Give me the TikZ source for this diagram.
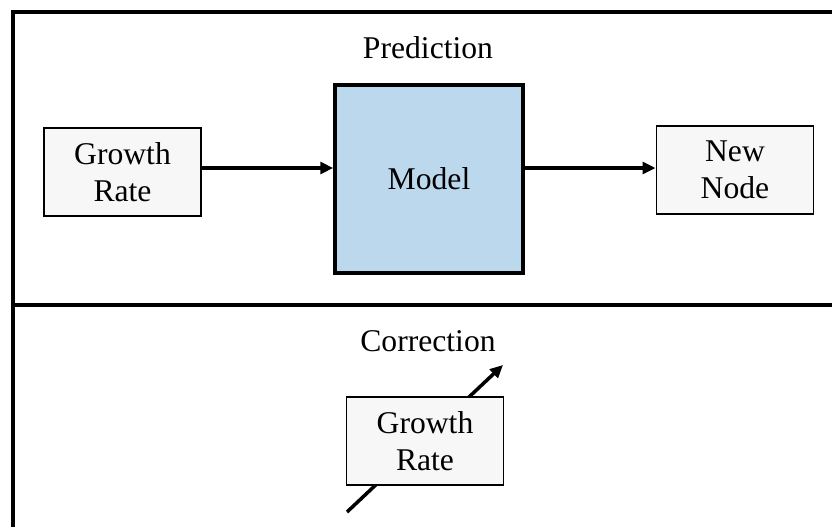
\documentclass[tikz,border=0pt]{standalone}
\usepackage{fontspec}
\setmainfont{Liberation Serif}
\usetikzlibrary{calc, positioning}
\usetikzlibrary{arrows.meta}

\definecolor{modelblue}{HTML}{BCD8EC}
\definecolor{boxgrey}{HTML}{F7F7F7}

\tikzset{
  inbox/.style={draw, line width=1.6pt, fill=boxgrey, minimum width=157*0.03cm,
    minimum height=88*0.03cm, align=center, inner sep=0pt},
  modelbox/.style={draw, line width=3pt, fill=modelblue, minimum width=188*0.03cm,
    minimum height=188*0.03cm, inner sep=0pt},
  flow/.style={line width=3pt, -{Triangle[length=11pt, width=10pt]}},
  title/.style={inner sep=0pt},
}

\begin{document}
\begin{tikzpicture}[x=0.03cm, y=-0.03cm, font=\fontsize{27}{32}\selectfont]
\def\picw{832}
\def\pich{527}
\def\divy{305}

\useasboundingbox (0,0) rectangle (\picw,\pich);
\clip (0,0) rectangle (\picw,\pich);

% frame and divider
\draw[line width=4pt] (13,12) rectangle (850,545);
\draw[line width=4pt] (13,\divy) -- (850,\divy);

% prediction
\node[title] (pred) at (428,48) {Prediction};
\node[inbox] (grow) at (122.5,172) {Growth\\Rate};
\node[modelbox] (model) at (429,179) {Model};
\node[inbox] (new) at (735,170) {New\\Node};

\draw[flow] (grow.east |- 0,168) -- (model.west |- 0,168);
\draw[flow] (model.east |- 0,168) -- (new.west |- 0,168);

% correction
\node[title] (corr) at (428,341) {Correction};
\coordinate (tail) at (347,512);
\coordinate (head) at (503,365);
\draw[flow] (tail) -- (head);
\node[inbox] (grow2) at (425,441) {Growth\\Rate};
\end{tikzpicture}
\end{document}
